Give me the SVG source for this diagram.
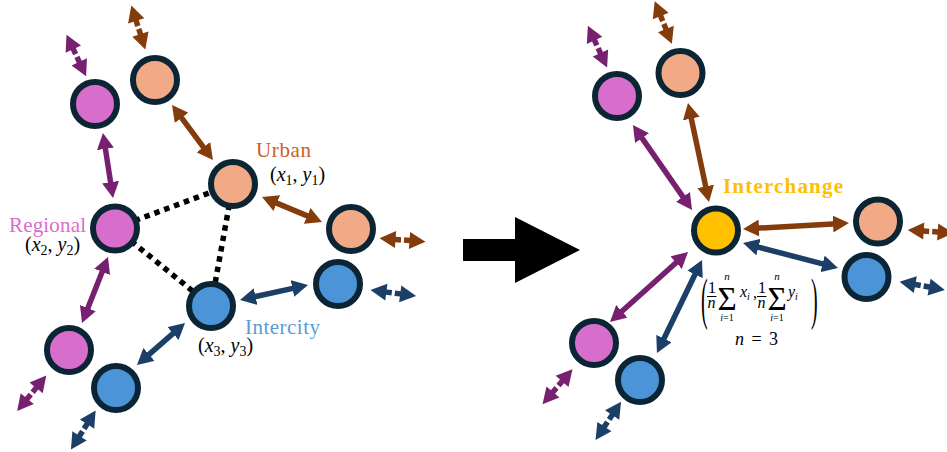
<svg xmlns="http://www.w3.org/2000/svg" xmlns:xlink="http://www.w3.org/1999/xlink" width="947" height="452" viewBox="0 0 947 452">
<style>
.node{stroke:#0B2535;stroke-width:6}
.pk{fill:#D86ECC}
.or{fill:#F1AA85}
.bl{fill:#4B94D8}
.ye{fill:#FFC000}
.conn{fill:none;stroke-width:5.5}
.cp{stroke:#782070}
.cb{stroke:#843C0C}
.cd{stroke:#1B3F66}
.dot{fill:none;stroke:#000;stroke-width:5.5;stroke-dasharray:5.5 5}
.sp{fill:#782070}
.sb{fill:#843C0C}
.sd{fill:#1B3F66}
.lbl{font-family:"Liberation Serif","Times New Roman",serif;font-size:21px}
.math{font-family:"Liberation Serif","Times New Roman",serif;font-size:20px;fill:#000}
.fm{font-family:"Liberation Serif","Times New Roman",serif;fill:#000}
.it{font-style:italic}
</style>
<defs>
<marker id="mp" viewBox="0 0 16 17" refX="4" refY="8.5" markerWidth="16" markerHeight="17" markerUnits="userSpaceOnUse" orient="auto-start-reverse"><path d="M0,0 L16,8.5 L0,17 Z" fill="#782070"/></marker>
<marker id="mb" viewBox="0 0 16 17" refX="4" refY="8.5" markerWidth="16" markerHeight="17" markerUnits="userSpaceOnUse" orient="auto-start-reverse"><path d="M0,0 L16,8.5 L0,17 Z" fill="#843C0C"/></marker>
<marker id="md" viewBox="0 0 16 17" refX="4" refY="8.5" markerWidth="16" markerHeight="17" markerUnits="userSpaceOnUse" orient="auto-start-reverse"><path d="M0,0 L16,8.5 L0,17 Z" fill="#1B3F66"/></marker>
<path id="stub" d="M23,0 L7,-8.5 L7,-2.75 L1.5,-2.75 L1.5,2.75 L7,2.75 L7,8.5 Z M-23,0 L-7,-8.5 L-7,-2.75 L-1.5,-2.75 L-1.5,2.75 L-7,2.75 L-7,8.5 Z"/>
</defs>

<g id="connectors">
  <!-- dotted links (left) -->
  <line class="dot" x1="115" y1="228" x2="233" y2="184"/>
  <line class="dot" x1="115" y1="228" x2="211" y2="306"/>
  <line class="dot" x1="233" y1="184" x2="211" y2="306"/>
  <!-- left arrows -->
  <line class="conn cp" x1="104.8" y1="144.9" x2="111.2" y2="186.1" marker-start="url(#mp)" marker-end="url(#mp)"/>
  <line class="conn cb" x1="179.2" y1="114.6" x2="205.8" y2="150.4" marker-start="url(#mb)" marker-end="url(#mb)"/>
  <line class="conn cb" x1="273.1" y1="201.6" x2="310.9" y2="217.4" marker-start="url(#mb)" marker-end="url(#mb)"/>
  <line class="conn cp" x1="103.6" y1="268.2" x2="86.4" y2="311.8" marker-start="url(#mp)" marker-end="url(#mp)"/>
  <line class="conn cd" x1="251.7" y1="297.4" x2="296.3" y2="287.6" marker-start="url(#md)" marker-end="url(#md)"/>
  <line class="conn cd" x1="176" y1="330.9" x2="146" y2="357.1" marker-start="url(#md)" marker-end="url(#md)"/>
  <!-- right arrows -->
  <line class="conn cp" x1="639.8" y1="134.9" x2="685.2" y2="200.1" marker-start="url(#mp)" marker-end="url(#mp)"/>
  <line class="conn cb" x1="690.5" y1="114.7" x2="706.5" y2="190.3" marker-start="url(#mb)" marker-end="url(#mb)"/>
  <line class="conn cb" x1="755" y1="228.3" x2="837" y2="223.7" marker-start="url(#mb)" marker-end="url(#mb)"/>
  <line class="conn cd" x1="754.6" y1="246.1" x2="826.4" y2="264.9" marker-start="url(#md)" marker-end="url(#md)"/>
  <line class="conn cp" x1="679.1" y1="260" x2="618.9" y2="314" marker-start="url(#mp)" marker-end="url(#mp)"/>
  <line class="conn cd" x1="696.8" y1="270.8" x2="662.2" y2="342.2" marker-start="url(#md)" marker-end="url(#md)"/>
  <!-- broken stub arrows -->
  <use href="#stub" class="sp" transform="translate(76.3,55.5) rotate(64.8)"/>
  <use href="#stub" class="sb" transform="translate(138.3,27.5) rotate(72.3)"/>
  <use href="#stub" class="sb" transform="translate(402.5,240) rotate(4.3)"/>
  <use href="#stub" class="sd" transform="translate(393.3,293) rotate(7.3)"/>
  <use href="#stub" class="sp" transform="translate(31.7,393.3) rotate(-50.7)"/>
  <use href="#stub" class="sd" transform="translate(83.3,430) rotate(-57.5)"/>
  <use href="#stub" class="sp" transform="translate(597.5,46.7) rotate(65.3)"/>
  <use href="#stub" class="sb" transform="translate(663.3,22.5) rotate(68.1)"/>
  <use href="#stub" class="sb" transform="translate(930.7,231.5) rotate(4)"/>
  <use href="#stub" class="sd" transform="translate(922.2,285.8) rotate(10.3)"/>
  <use href="#stub" class="sp" transform="translate(557.5,386.7) rotate(-49.3)"/>
  <use href="#stub" class="sd" transform="translate(608.3,420.8) rotate(-56.3)"/>
</g>

<g id="big-arrow">
  <polygon points="463,239 515,239 515,217 580,250 515,283 515,261 463,261" fill="#000"/>
</g>

<!-- left nodes -->
<g id="regional-top"><circle class="node pk" cx="95" cy="104" r="22"/></g>
<g id="urban-top"><circle class="node or" cx="155" cy="80" r="22"/></g>
<g id="urban">
  <circle class="node or" cx="233" cy="184" r="22"/>
  <text class="lbl" x="256" y="157" fill="#C8602A" textLength="55" lengthAdjust="spacing">Urban</text>
  <text class="math" x="270" y="181">(<tspan class="it">x</tspan><tspan font-size="14" dy="4">1</tspan><tspan dy="-4">, </tspan><tspan class="it">y</tspan><tspan font-size="14" dy="4">1</tspan><tspan dy="-4">)</tspan></text>
</g>
<g id="urban-right"><circle class="node or" cx="351" cy="229" r="22"/></g>
<g id="regional">
  <circle class="node pk" cx="115" cy="228.5" r="22"/>
  <text class="lbl" x="9" y="232" fill="#D86ECC" textLength="77" lengthAdjust="spacing">Regional</text>
  <text class="math" x="25" y="251">(<tspan class="it">x</tspan><tspan font-size="14" dy="4">2</tspan><tspan dy="-4">, </tspan><tspan class="it">y</tspan><tspan font-size="14" dy="4">2</tspan><tspan dy="-4">)</tspan></text>
</g>
<g id="intercity">
  <circle class="node bl" cx="211" cy="306" r="22"/>
  <text class="lbl" x="245" y="334" fill="#5B9BD5" textLength="75" lengthAdjust="spacing">Intercity</text>
  <text class="math" x="198" y="352">(<tspan class="it">x</tspan><tspan font-size="14" dy="4">3</tspan><tspan dy="-4">, </tspan><tspan class="it">y</tspan><tspan font-size="14" dy="4">3</tspan><tspan dy="-4">)</tspan></text>
</g>
<g id="intercity-right"><circle class="node bl" cx="338" cy="284" r="22"/></g>
<g id="regional-bottom"><circle class="node pk" cx="69" cy="350" r="22"/></g>
<g id="intercity-bottom"><circle class="node bl" cx="116" cy="388" r="22"/></g>

<!-- right nodes -->
<g id="r-regional-top"><circle class="node pk" cx="617" cy="96" r="22"/></g>
<g id="r-urban-top"><circle class="node or" cx="680.5" cy="73" r="22"/></g>
<g id="interchange">
  <circle class="node ye" cx="716" cy="230.5" r="22"/>
  <text class="lbl" x="723" y="193" fill="#FFC000" font-weight="bold" font-size="22" textLength="120" lengthAdjust="spacing">Interchange</text>
  <g class="fm">
    <text font-size="20" transform="translate(701,318) scale(1,2.8)">(</text>
    <text font-size="16" x="708" y="293">1</text>
    <line x1="707" y1="296.5" x2="716.5" y2="296.5" stroke="#000" stroke-width="1"/>
    <text font-size="16" x="707.5" y="308" class="it">n</text>
    <text font-size="33" x="727" y="310" text-anchor="middle">Σ</text>
    <text font-size="11" x="727" y="280" text-anchor="middle" class="it">n</text>
    <text font-size="10" x="727" y="321" text-anchor="middle"><tspan class="it">i</tspan>=1</text>
    <text font-size="16" x="740" y="297" class="it">x<tspan font-size="10" dy="3">i</tspan></text>
    <text font-size="16" x="753" y="298">,</text>
    <text font-size="16" x="758" y="293">1</text>
    <line x1="757" y1="296.5" x2="766.5" y2="296.5" stroke="#000" stroke-width="1"/>
    <text font-size="16" x="757.5" y="308" class="it">n</text>
    <text font-size="33" x="777" y="310" text-anchor="middle">Σ</text>
    <text font-size="11" x="777" y="280" text-anchor="middle" class="it">n</text>
    <text font-size="10" x="777" y="321" text-anchor="middle"><tspan class="it">i</tspan>=1</text>
    <text font-size="16" x="788" y="297" class="it">y<tspan font-size="10" dy="3">i</tspan></text>
    <text font-size="20" transform="translate(811,318) scale(1,2.8)">)</text>
    <text font-size="18" x="735" y="345" textLength="43" lengthAdjust="spacing"><tspan class="it">n</tspan> = 3</text>
  </g>
</g>
<g id="r-urban-right"><circle class="node or" cx="878" cy="221.5" r="22"/></g>
<g id="r-intercity-right"><circle class="node bl" cx="866.5" cy="277" r="22"/></g>
<g id="r-regional-bottom"><circle class="node pk" cx="594" cy="343" r="22"/></g>
<g id="r-intercity-bottom"><circle class="node bl" cx="640" cy="380" r="22"/></g>
</svg>
